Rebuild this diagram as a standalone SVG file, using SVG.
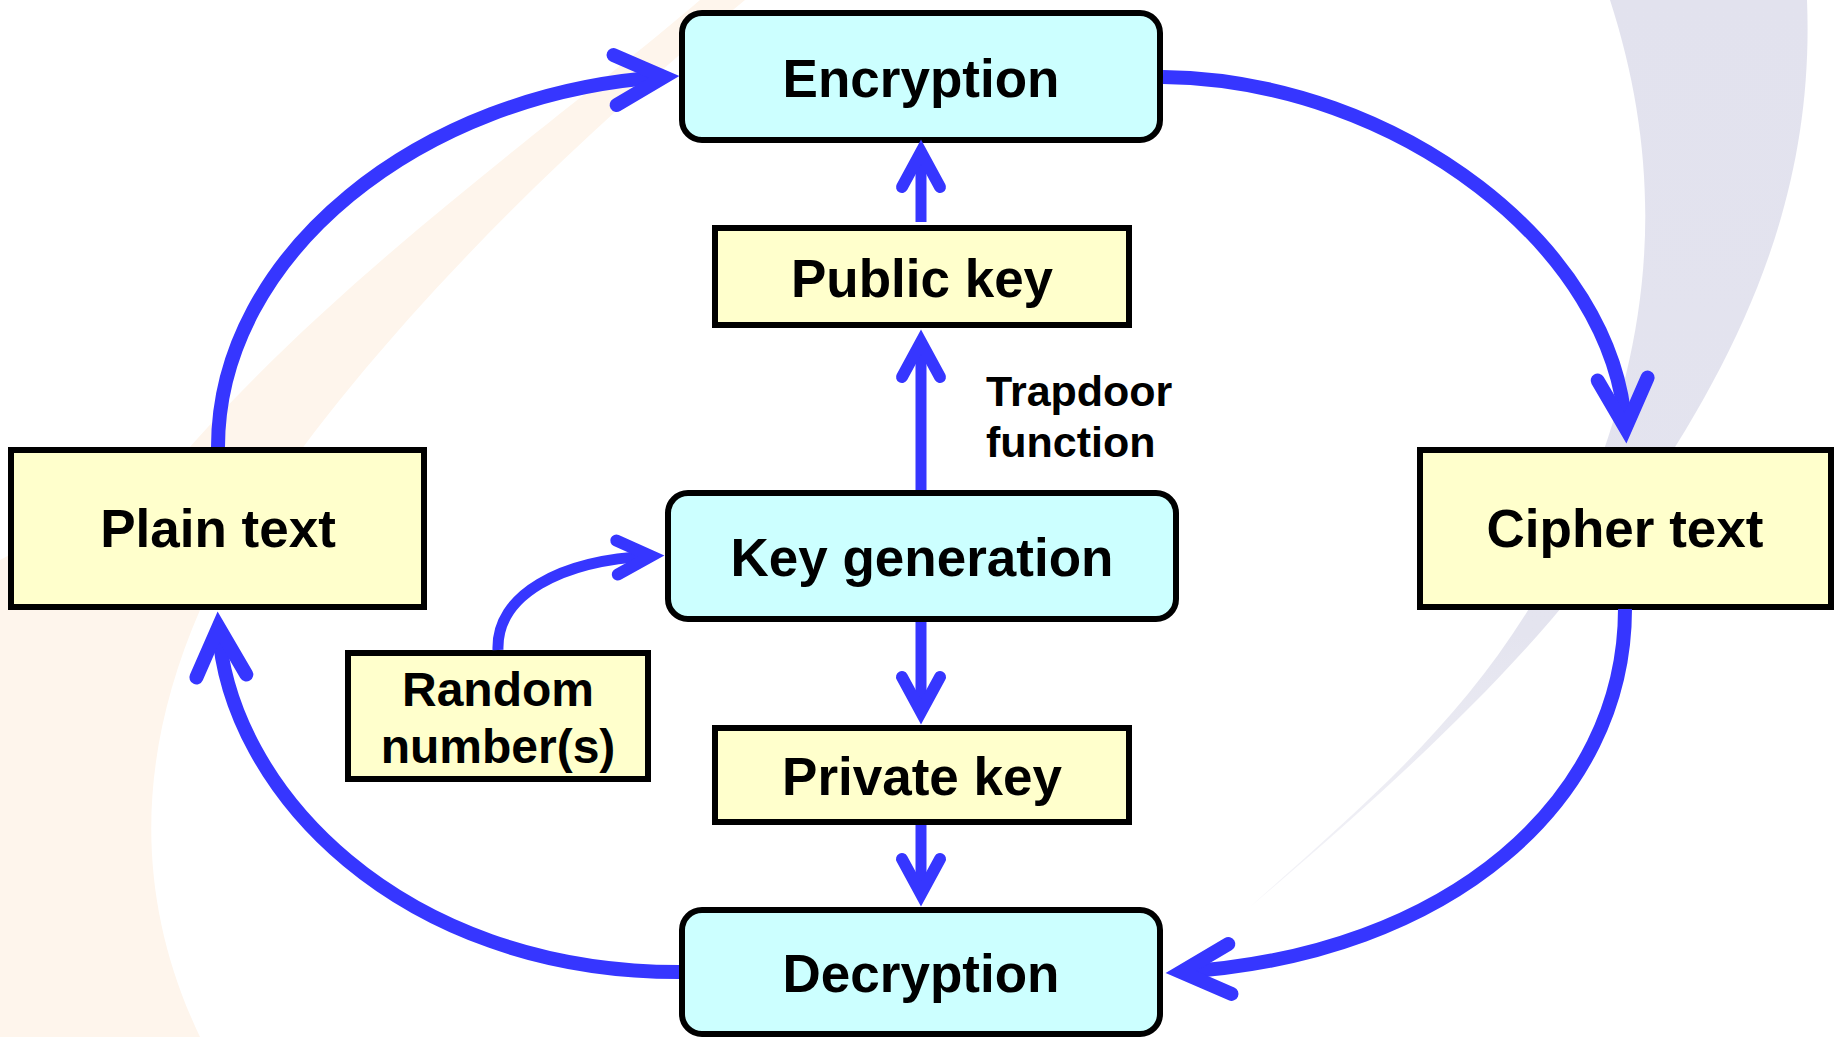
<svg xmlns="http://www.w3.org/2000/svg" width="1835" height="1037" viewBox="0 0 1835 1037">
<style>
.box{stroke:#000;stroke-width:6}
.proc{fill:#CCFFFF}
.data{fill:#FFFFCC}
.lbl{font-family:"Liberation Sans",Arial,sans-serif;font-weight:bold;fill:#000;text-anchor:middle}
.big{font-size:53px}
.mid{font-size:48px}
.sm{font-size:43px;text-anchor:start}
.arc{fill:none;stroke:#3636FF;stroke-width:14}
.vline{fill:none;stroke:#3636FF;stroke-width:11}
.sline{fill:none;stroke:#3636FF;stroke-width:11}
.head{fill:none;stroke:#3636FF;stroke-linejoin:miter;stroke-linecap:round;stroke-miterlimit:10}
</style>
<defs>
<marker id="arrowL" markerUnits="userSpaceOnUse" orient="auto" markerWidth="200" markerHeight="200" viewBox="-100 -100 200 200" refX="0" refY="0" overflow="visible">
<polyline class="head" stroke-width="14" points="-49,-25 0,0 -49,25"/>
</marker>
<marker id="arrowM" markerUnits="userSpaceOnUse" orient="auto" markerWidth="200" markerHeight="200" viewBox="-100 -100 200 200" refX="0" refY="0" overflow="visible">
<polyline class="head" stroke-width="12" points="-35,-19 0,0 -35,19"/>
</marker>
<marker id="arrowS" markerUnits="userSpaceOnUse" orient="auto" markerWidth="200" markerHeight="200" viewBox="-100 -100 200 200" refX="0" refY="0" overflow="visible">
<polyline class="head" stroke-width="12" points="-34,-17 0,0 -34,17"/>
</marker>
<linearGradient id="lav" x1="0" y1="0" x2="0" y2="1">
<stop offset="0" stop-color="#E2E2EE"/>
<stop offset="0.7" stop-color="#E4E4EF"/>
<stop offset="1" stop-color="#F4F4F8"/>
</linearGradient>
</defs>
<rect width="1835" height="1037" fill="#FFFFFF"/>
<g id="watermark">
<path d="M 700 0 C 560 120 330 280 170 470 L 0 560 L 0 1037 L 200 1037 C 135 900 135 760 200 610 C 290 430 500 200 745 0 Z" fill="#FEF5EC"/>
<path d="M 1610 0 C 1665 170 1655 330 1585 500 C 1505 690 1380 790 1250 907 C 1400 780 1540 650 1620 530 C 1740 360 1815 200 1807 0 Z" fill="url(#lav)"/>
</g>
<g id="n-encryption">
<rect class="box proc" x="682" y="13" width="478" height="127" rx="20"/>
<text class="lbl big" x="921" y="97">Encryption</text>
</g>
<g id="n-publickey">
<rect class="box data" x="715" y="228" width="414" height="97"/>
<text class="lbl big" x="922" y="297">Public key</text>
</g>
<g id="n-keygen">
<rect class="box proc" x="668" y="493" width="508" height="126" rx="20"/>
<text class="lbl big" x="922" y="576">Key generation</text>
</g>
<g id="n-privatekey">
<rect class="box data" x="715" y="728" width="414" height="94"/>
<text class="lbl big" x="922" y="795">Private key</text>
</g>
<g id="n-decryption">
<rect class="box proc" x="682" y="910" width="478" height="124" rx="20"/>
<text class="lbl big" x="921" y="992">Decryption</text>
</g>
<g id="n-plaintext">
<rect class="box data" x="11" y="450" width="413" height="157"/>
<text class="lbl big" x="218" y="547">Plain text</text>
</g>
<g id="n-ciphertext">
<rect class="box data" x="1420" y="450" width="411" height="157"/>
<text class="lbl big" x="1625" y="547">Cipher text</text>
</g>
<g id="n-random">
<rect class="box data" x="348" y="653" width="300" height="126"/>
<text class="lbl mid" x="498" y="706">Random</text>
<text class="lbl mid" x="498" y="763">number(s)</text>
</g>
<g id="n-trapdoor">
<text class="lbl sm" x="986" y="406">Trapdoor</text>
<text class="lbl sm" x="986" y="457">function</text>
</g>
<g id="connectors">
<path class="arc" d="M 218 447 C 218 255 420 92 664 77" marker-end="url(#arrowL)"/>
<path class="arc" d="M 1163 77 C 1400 80 1615 250 1625.5 428" marker-end="url(#arrowL)"/>
<path class="arc" d="M 1625 609 C 1625 800 1450 955 1181 972" marker-end="url(#arrowL)"/>
<path class="arc" d="M 679 972 C 400 972 228 790 218.5 627" marker-end="url(#arrowL)"/>
<path class="vline" d="M 921 222 V 152" marker-end="url(#arrowM)"/>
<path class="vline" d="M 921 490 V 342" marker-end="url(#arrowM)"/>
<path class="vline" d="M 921 622 V 712" marker-end="url(#arrowM)"/>
<path class="vline" d="M 921 825 V 894" marker-end="url(#arrowM)"/>
<path class="sline" d="M 498 650 C 496 595 560 560 651 556" marker-end="url(#arrowS)"/>
</g>
</svg>
